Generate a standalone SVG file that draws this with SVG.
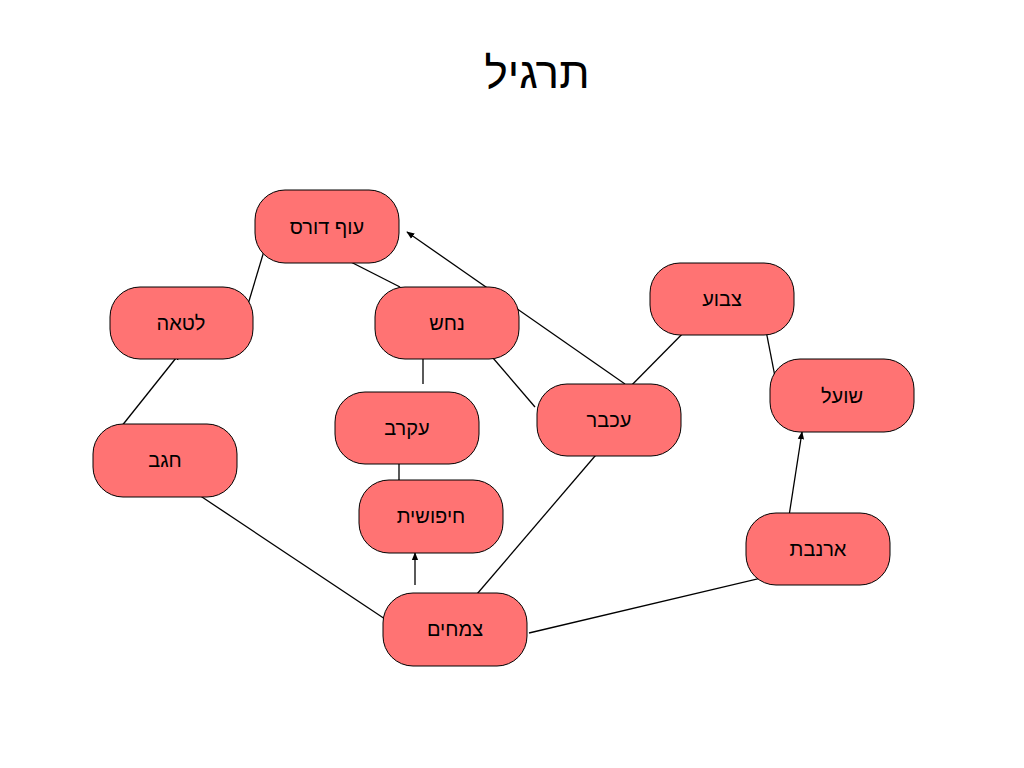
<svg xmlns="http://www.w3.org/2000/svg" width="1024" height="768" viewBox="0 0 1024 768">
<style>
.n rect{fill:#FF7373;stroke:#000;stroke-width:1}
.n text{font-family:"Liberation Sans",Arial,sans-serif;font-size:20px;text-anchor:middle;dominant-baseline:central}
#edges line{stroke:#000;stroke-width:1.3;marker-end:url(#a)}
</style>
<defs><marker id="a" viewBox="0 0 10 10" refX="9" refY="5" markerWidth="8" markerHeight="8" orient="auto" markerUnits="userSpaceOnUse"><path d="M0,1 L10,5 L0,9 Z" fill="#000"/></marker></defs>
<rect width="1024" height="768" fill="#fff"/>
<text x="537" y="72" font-family="Liberation Sans,Arial,sans-serif" font-size="44" text-anchor="middle" dominant-baseline="central" direction="rtl">תרגיל</text>
<g id="edges">
<line x1="246" y1="311" x2="270" y2="231"/>
<line x1="400" y1="287" x2="335" y2="254"/>
<line x1="625" y1="384" x2="407" y2="232"/>
<line x1="535" y1="407" x2="487" y2="351"/>
<line x1="423" y1="384" x2="423" y2="352"/>
<line x1="399" y1="481" x2="399" y2="450"/>
<line x1="415" y1="585" x2="415" y2="553"/>
<line x1="117" y1="432" x2="180" y2="353"/>
<line x1="406" y1="633" x2="190" y2="489"/>
<line x1="471" y1="601" x2="601" y2="449"/>
<line x1="617" y1="400" x2="698" y2="318"/>
<line x1="778" y1="392" x2="762" y2="310"/>
<line x1="787" y1="529" x2="802" y2="432"/>
<line x1="529" y1="633" x2="770" y2="576"/>
</g>
<g id="n1" class="n"><rect x="255" y="190" width="144" height="73" rx="30"/><text x="327" y="227" direction="rtl">עוף דורס</text></g>
<g id="n2" class="n"><rect x="110" y="287" width="143" height="72" rx="30"/><text x="181" y="323" direction="rtl">לטאה</text></g>
<g id="n3" class="n"><rect x="375" y="287" width="144" height="72" rx="30"/><text x="447" y="323" direction="rtl">נחש</text></g>
<g id="n4" class="n"><rect x="650" y="263" width="144" height="72" rx="30"/><text x="722" y="299" direction="rtl">צבוע</text></g>
<g id="n5" class="n"><rect x="770" y="359" width="144" height="73" rx="30"/><text x="842" y="396" direction="rtl">שועל</text></g>
<g id="n6" class="n"><rect x="537" y="384" width="144" height="72" rx="30"/><text x="609" y="420" direction="rtl">עכבר</text></g>
<g id="n7" class="n"><rect x="335" y="392" width="144" height="72" rx="30"/><text x="407" y="428" direction="rtl">עקרב</text></g>
<g id="n8" class="n"><rect x="93" y="424" width="144" height="73" rx="30"/><text x="165" y="460" direction="rtl">חגב</text></g>
<g id="n9" class="n"><rect x="359" y="480" width="144" height="73" rx="30"/><text x="431" y="516" direction="rtl">חיפושית</text></g>
<g id="n10" class="n"><rect x="746" y="513" width="144" height="72" rx="30"/><text x="818" y="549" direction="rtl">ארנבת</text></g>
<g id="n11" class="n"><rect x="383" y="593" width="144" height="73" rx="30"/><text x="455" y="629" direction="rtl">צמחים</text></g>
</svg>
